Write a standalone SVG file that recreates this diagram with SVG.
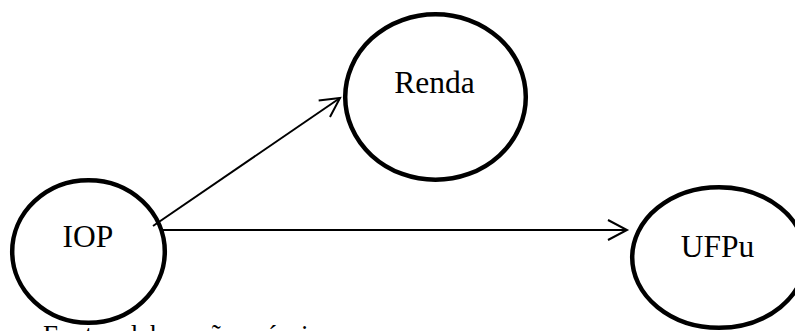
<svg xmlns="http://www.w3.org/2000/svg" width="795" height="331" viewBox="0 0 795 331">
  <style>
    .node { fill: #ffffff; stroke: #000000; stroke-width: 4.5; }
    .label { font-family: "Liberation Serif", "Times New Roman", serif; font-size: 31.5px; fill: #000000; text-anchor: middle; }
    .conn { fill: none; stroke: #000000; stroke-width: 2; }
    .caption { font-family: "Liberation Serif", "Times New Roman", serif; font-size: 27px; fill: #000000; }
  </style>
  <defs>
    <marker id="arrow" markerUnits="userSpaceOnUse" markerWidth="24" markerHeight="24" viewBox="-22 -12 24 24" refX="0" refY="0" orient="auto" overflow="visible">
      <path d="M-19,-10 L0,0 L-19,10" fill="none" stroke="#000000" stroke-width="2"/>
    </marker>
  </defs>
  <rect x="0" y="0" width="795" height="331" fill="#ffffff"/>
  <g id="node-renda">
    <ellipse class="node" cx="435.5" cy="97" rx="90.3" ry="82.8"/>
    <text class="label" x="434.5" y="92.5">Renda</text>
  </g>
  <g id="node-iop">
    <ellipse class="node" cx="88.5" cy="251.5" rx="76.3" ry="71.3"/>
    <text class="label" x="88" y="247">IOP</text>
  </g>
  <g id="node-ufpu">
    <ellipse class="node" cx="719" cy="257.5" rx="86.8" ry="70.3"/>
    <text class="label" x="717.5" y="257">UFPu</text>
  </g>
  <g id="connectors">
    <line class="conn" x1="153" y1="226" x2="340" y2="98" marker-end="url(#arrow)"/>
    <line class="conn" x1="163" y1="230" x2="627" y2="230" marker-end="url(#arrow)"/>
  </g>
  <text class="caption" x="43" y="344">Fonte: elaboração própria</text>
</svg>
